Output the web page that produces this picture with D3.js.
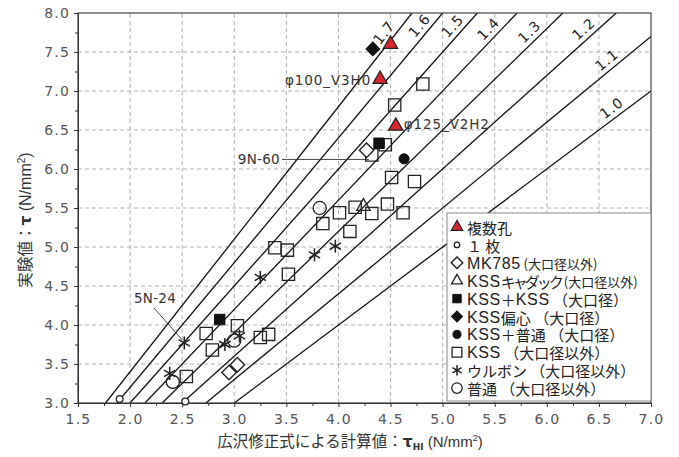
<!DOCTYPE html>
<html>
<head>
<meta charset="utf-8">
<script src="https://cdn.jsdelivr.net/npm/d3@7"></script>
<style>
  body { margin: 0; background: #fff; }
  text { font-family: "DejaVu Sans", sans-serif; }
  .cjk { font-family: "Noto Sans CJK JP", sans-serif; }
</style>
</head>
<body>
<svg id="chart" width="679" height="457"></svg>
<script>
// axis ticks
const xTicks = [1.5, 2.0, 2.5, 3.0, 3.5, 4.0, 4.5, 5.0, 5.5, 6.0, 6.5, 7.0];
const yTicks = [3.0, 3.5, 4.0, 4.5, 5.0, 5.5, 6.0, 6.5, 7.0, 7.5, 8.0];

// ratio lines tau / tauHI, and the tau value on each line where its label sits
const ratios = [1.0, 1.1, 1.2, 1.3, 1.4, 1.5, 1.6, 1.7];
const ratioLabelAt = [6.68, 7.30, 7.70, 7.67, 7.71, 7.75, 7.76, 7.67];

// series [tauHI, tau]
const fukusuKou = [[4.50, 7.60], [4.40, 7.15], [4.55, 6.55]];
const ichimai = [[1.90, 3.05], [2.53, 3.02]];
const mk785 = [[4.27, 6.24], [2.95, 3.39], [3.03, 3.49]];
const kssCadac = [[4.24, 5.52]];
const kssKss = [[4.39, 6.33], [2.86, 4.07]];
const kssHenshin = [[4.33, 7.54]];
const kssFutsu = [[4.63, 6.13]];
const kss = [
  [4.81, 7.09], [4.54, 6.82], [4.45, 6.31], [4.32, 6.18], [4.51, 5.89], [4.73, 5.84],
  [4.01, 5.44], [4.16, 5.51], [4.32, 5.43], [4.47, 5.55], [4.62, 5.44], [4.11, 5.20],
  [3.85, 5.30], [3.39, 4.99], [3.51, 4.96], [3.52, 4.65], [2.73, 3.89], [3.03, 3.99],
  [3.33, 3.88], [3.25, 3.84], [2.79, 3.68], [2.54, 3.34]
];
const urubon = [[2.52, 3.77], [2.38, 3.38], [2.91, 3.75], [3.05, 3.86], [3.25, 4.61], [3.77, 4.90], [3.97, 5.01]];
const futsu = [[2.41, 3.27], [3.00, 3.80], [3.82, 5.50]];

// legend labels: [main text, smaller trailing text]
const legendLabels = [
  ["複数孔", ""],
  ["１ 枚", ""],
  ["MK785", " (大口径以外)"],
  ["KSSキャダック", " (大口径以外)"],
  ["KSS＋KSS （大口径）", ""],
  ["KSS偏心 （大口径）", ""],
  ["KSS＋普通 （大口径）", ""],
  ["KSS （大口径以外）", ""],
  ["ウルボン （大口径以外）", ""],
  ["普通 （大口径以外）", ""]
];

const svg = d3.select("#chart");
const W = 679, H = 457;
const m = { left: 78, right: 28, top: 13, bottom: 54 };

const x = d3.scaleLinear().domain([1.5, 7.0]).range([m.left, W - m.right]);
const y = d3.scaleLinear().domain([3.0, 8.0]).range([H - m.bottom, m.top]);

// asterisk symbol (6 arms)
const symbolAsterisk = {
  draw(ctx, size) {
    const r = Math.sqrt(size) / 2;
    [90, 30, -30].forEach(a => {
      const c = Math.cos(a * Math.PI / 180) * r, s = Math.sin(a * Math.PI / 180) * r;
      ctx.moveTo(-c, -s);
      ctx.lineTo(c, s);
    });
  }
};

const styles = {
  redTri:   { type: d3.symbolTriangle, size: 88, fill: "#d6262e", stroke: "#222", sw: 1.2, rot: 0 },
  dot:      { type: d3.symbolCircle, size: 36, fill: "#fff", stroke: "#222", sw: 1.3, rot: 0 },
  diamond:  { type: d3.symbolSquare, size: 105, fill: "#fff", stroke: "#222", sw: 1.4, rot: 45 },
  tri:      { type: d3.symbolTriangle, size: 80, fill: "none", stroke: "#222", sw: 1.3, rot: 0 },
  fSquare:  { type: d3.symbolSquare, size: 110, fill: "#111", stroke: "#111", sw: 1, rot: 0 },
  fDiamond: { type: d3.symbolSquare, size: 95, fill: "#111", stroke: "#111", sw: 1, rot: 45 },
  fCircle:  { type: d3.symbolCircle, size: 80, fill: "#111", stroke: "#111", sw: 1, rot: 0 },
  square:   { type: d3.symbolSquare, size: 150, fill: "none", stroke: "#222", sw: 1.3, rot: 0 },
  star:     { type: symbolAsterisk, size: 170, fill: "none", stroke: "#222", sw: 1.5, rot: 0 },
  circle:   { type: d3.symbolCircle, size: 135, fill: "none", stroke: "#222", sw: 1.3, rot: 0 }
};

const series = [
  { pts: futsu, st: "circle" },
  { pts: kss, st: "square" },
  { pts: urubon, st: "star" },
  { pts: kssFutsu, st: "fCircle" },
  { pts: kssHenshin, st: "fDiamond" },
  { pts: kssKss, st: "fSquare" },
  { pts: kssCadac, st: "tri" },
  { pts: mk785, st: "diamond" },
  { pts: ichimai, st: "dot" },
  { pts: fukusuKou, st: "redTri" }
];
const legendStyles = ["redTri", "dot", "diamond", "tri", "fSquare", "fDiamond", "fCircle", "square", "star", "circle"];

function addSymbol(sel, key, scale) {
  const s = styles[key];
  sel.append("path")
    .attr("d", d3.symbol().type(s.type).size(s.size * scale * scale))
    .attr("transform", s.rot ? "rotate(" + s.rot + ")" : null)
    .attr("fill", s.fill)
    .attr("stroke", s.stroke)
    .attr("stroke-width", s.sw);
}

// grid
const grid = svg.append("g").attr("stroke", "#a8a8a8").attr("stroke-width", 0.9).attr("stroke-dasharray", "4,3");
grid.selectAll(".gx").data(xTicks.slice(1, -1)).enter().append("line")
  .attr("x1", d => x(d)).attr("x2", d => x(d)).attr("y1", y(3)).attr("y2", y(8));
grid.selectAll(".gy").data(yTicks.slice(1, -1)).enter().append("line")
  .attr("y1", d => y(d)).attr("y2", d => y(d)).attr("x1", x(1.5)).attr("x2", x(7));

// ratio lines, clipped to the plot
svg.append("clipPath").attr("id", "plotClip").append("rect")
  .attr("x", x(1.5)).attr("y", y(8)).attr("width", x(7) - x(1.5)).attr("height", y(3) - y(8));

const lines = svg.append("g").attr("clip-path", "url(#plotClip)");
lines.selectAll("line").data(ratios).enter().append("line")
  .attr("x1", k => x(3 / k)).attr("y1", y(3))
  .attr("x2", k => x(Math.min(7, 8 / k))).attr("y2", k => y(k * Math.min(7, 8 / k)))
  .attr("stroke", "#111").attr("stroke-width", 1.3);

// ratio labels
ratios.forEach((k, i) => {
  const tv = ratioLabelAt[i];
  const px = x(tv / k), py = y(tv);
  const dx = x(1) - x(0), dy = y(0) - y(k);
  const len = Math.hypot(dx, dy);
  const nx = -dy / len, ny = -dx / len;
  const ang = -Math.atan2(dy, dx) * 180 / Math.PI;
  svg.append("text")
    .attr("transform", "translate(" + (px + 10 * nx) + "," + (py + 10 * ny) + ") rotate(" + ang + ")")
    .attr("text-anchor", "middle").attr("dominant-baseline", "central")
    .attr("font-size", 14).attr("letter-spacing", 1).attr("fill", "#222")
    .text(k.toFixed(1));
});

// frame
svg.append("rect")
  .attr("x", x(1.5)).attr("y", y(8)).attr("width", x(7) - x(1.5)).attr("height", y(3) - y(8))
  .attr("fill", "none").attr("stroke", "#333").attr("stroke-width", 1.1);

// axes
const minor = d3.range(3.25, 8, 0.5);
const minorX = d3.range(1.75, 7, 0.5);
const xAxis = svg.append("g").attr("transform", "translate(0," + y(3) + ")")
  .call(d3.axisBottom(x).tickValues(xTicks).tickSize(4).tickPadding(4).tickFormat(d3.format(".1f")));
svg.append("g").attr("transform", "translate(0," + y(3) + ")")
  .call(d3.axisBottom(x).tickValues(minorX).tickSize(3).tickFormat(""));
const yAxis = svg.append("g").attr("transform", "translate(" + x(1.5) + ",0)")
  .call(d3.axisLeft(y).tickValues(yTicks).tickSize(4).tickPadding(4).tickFormat(d3.format(".1f")));
svg.append("g").attr("transform", "translate(" + x(1.5) + ",0)")
  .call(d3.axisLeft(y).tickValues(minor).tickSize(3).tickFormat(""));
svg.selectAll(".domain").attr("stroke", "#333");
svg.selectAll(".tick line").attr("stroke", "#333");
svg.selectAll(".tick text")
  .attr("font-family", "DejaVu Sans").attr("font-size", 14).attr("letter-spacing", 1.2).attr("fill", "#555");
xAxis.selectAll(".tick text").attr("dy", "0.9em");

// points
series.forEach(sr => {
  const g = svg.append("g");
  sr.pts.forEach(p => {
    const pg = g.append("g").attr("transform", "translate(" + x(p[0]) + "," + y(p[1]) + ")");
    addSymbol(pg, sr.st, 1);
  });
});

// annotations
const ann = svg.append("g").attr("fill", "#333").attr("font-size", 13.5);
{
  const p = fukusuKou[1];
  ann.append("text").attr("x", x(p[0]) - 9).attr("y", y(p[1]) + 6)
    .attr("text-anchor", "end").attr("letter-spacing", 0.9).text("φ100_V3H0");
}
{
  const p = fukusuKou[2];
  ann.append("text").attr("x", x(p[0]) + 8).attr("y", y(p[1]) + 3)
    .attr("letter-spacing", 0.9).text("φ125_V2H2");
}
{
  const p = kss[3];
  ann.append("line").attr("x1", 282).attr("y1", y(p[1]) + 4.5).attr("x2", x(p[0]) - 3).attr("y2", y(p[1]) + 4.5)
    .attr("stroke", "#333").attr("stroke-width", 0.9);
  ann.append("text").attr("x", 280).attr("y", y(p[1]) + 9)
    .attr("text-anchor", "end").attr("letter-spacing", 0.3).text("9N-60");
}
{
  const p = urubon[0];
  ann.append("line").attr("x1", 154).attr("y1", 308).attr("x2", x(p[0]) - 2).attr("y2", y(p[1]) - 3)
    .attr("stroke", "#333").attr("stroke-width", 0.9);
  ann.append("text").attr("x", 155).attr("y", 303)
    .attr("text-anchor", "middle").attr("letter-spacing", 0.3).text("5N-24");
}

// legend
const lg = svg.append("g");
lg.append("rect").attr("x", 447).attr("y", 213).attr("width", x(7) - 447).attr("height", 188)
  .attr("fill", "#fff").attr("stroke", "#888").attr("stroke-width", 1);

// write a label, giving runs of Latin letters/digits a wider Latin face
function addRuns(t, str, size) {
  str.split(/([A-Za-z0-9]+)/).filter(s => s.length).forEach(s => {
    const ts = t.append("tspan").text(s).attr("font-size", size);
    if (/^[A-Za-z0-9]+$/.test(s)) {
      ts.attr("font-family", "Liberation Sans").attr("font-size", size + 1).attr("letter-spacing", 0.6);
    } else if (/[ァ-ヶー]{5}/.test(s)) {
      ts.attr("letter-spacing", -3);
    }
  });
}

legendLabels.forEach((lab, i) => {
  const cy = 227 + i * 17.9;
  const sg = lg.append("g").attr("transform", "translate(457," + cy + ")");
  addSymbol(sg, legendStyles[i], 0.8);
  const t = lg.append("text").attr("class", "cjk").attr("x", 467).attr("y", cy)
    .attr("dominant-baseline", "central").attr("fill", "#222");
  addRuns(t, lab[0], 15);
  if (lab[1]) addRuns(t, lab[1], 13);
});

// axis titles
const xt = svg.append("text").attr("x", 350).attr("y", 447).attr("text-anchor", "middle")
  .attr("fill", "#333").attr("class", "cjk").attr("font-size", 15.5);
xt.append("tspan").text("広沢修正式による計算値：");
xt.append("tspan").attr("font-weight", "bold").attr("font-family", "DejaVu Sans").text("τ");
xt.append("tspan").attr("font-weight", "bold").attr("font-family", "DejaVu Sans").attr("font-size", 9).attr("dy", 3).text("HI");
xt.append("tspan").attr("font-family", "Liberation Sans").attr("font-size", 15).attr("dy", -3).text(" (N/mm");
xt.append("tspan").attr("font-family", "Liberation Sans").attr("font-size", 9).attr("dy", -6).text("2");
xt.append("tspan").attr("font-family", "Liberation Sans").attr("font-size", 15).attr("dy", 6).text(")");

const yt = svg.append("text").attr("transform", "translate(31,220) rotate(-90)").attr("text-anchor", "middle")
  .attr("fill", "#333").attr("class", "cjk").attr("font-size", 15.5);
yt.append("tspan").text("実験値：");
yt.append("tspan").attr("font-weight", "bold").attr("font-family", "DejaVu Sans").text("τ");
yt.append("tspan").attr("font-family", "Liberation Sans").attr("font-size", 16).text(" (N/mm");
yt.append("tspan").attr("font-family", "Liberation Sans").attr("font-size", 10).attr("dy", -6).text("2");
yt.append("tspan").attr("font-family", "Liberation Sans").attr("font-size", 16).attr("dy", 6).text(")");
</script>
</body>
</html>
